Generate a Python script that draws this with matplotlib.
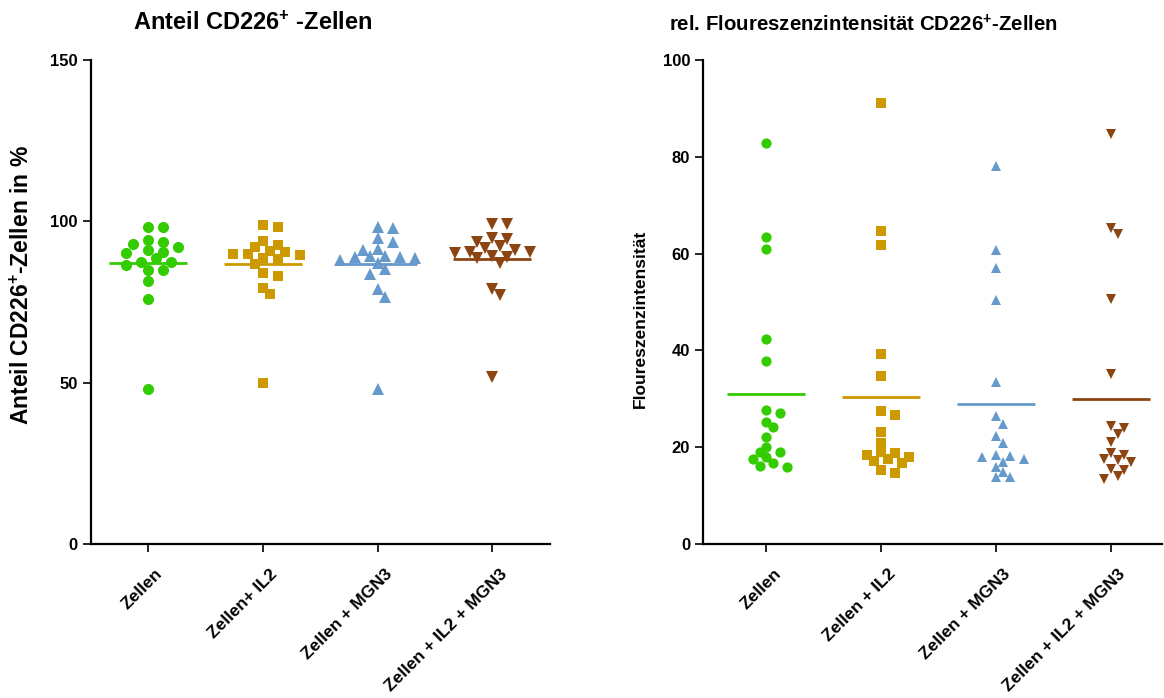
import numpy as np
import matplotlib
matplotlib.use('Agg')
import matplotlib.pyplot as plt
import matplotlib.transforms as mtransforms

plt.rcParams['font.family'] = ['Liberation Sans', 'DejaVu Sans']
plt.rcParams['font.weight'] = 'bold'
plt.rcParams['mathtext.fontset'] = 'custom'
plt.rcParams['mathtext.rm'] = 'Liberation Sans:bold'
plt.rcParams['mathtext.bf'] = 'Liberation Sans:bold'
plt.rcParams['mathtext.default'] = 'bf'

# Gruppen
labels_anteil = ['Zellen', 'Zellen+ IL2', 'Zellen + MGN3', 'Zellen + IL2 + MGN3']
labels_mfi = ['Zellen', 'Zellen + IL2', 'Zellen + MGN3', 'Zellen + IL2 + MGN3']

# Anteil CD226+ Zellen in %
anteil_zellen = [98.1, 98.1, 93.5, 94.2, 92.0, 93.0, 90.5, 91.1, 90.3,
                 88.7, 87.3, 87.3, 86.5, 84.9, 84.9, 81.5, 75.8, 47.9]
anteil_il2 = [98.9, 98.3, 93.9, 91.9, 92.7, 89.8, 89.8, 90.6, 90.9,
              89.6, 88.5, 88.2, 86.7, 83.2, 83.9, 79.2, 77.5, 49.8]
anteil_mgn3 = [97.8, 98.3, 94.9, 93.5, 91.1, 91.4, 89.2, 89.0, 88.7,
               89.0, 89.3, 87.0, 88.0, 83.7, 85.1, 78.9, 76.6, 47.9]
anteil_il2_mgn3 = [99.1, 99.1, 94.7, 94.4, 93.7, 91.8, 92.4, 90.3, 90.6,
                   90.6, 91.1, 88.8, 88.5, 89.3, 87.2, 78.9, 77.2, 51.8]

# rel. Fluoreszenzintensitaet
mfi_zellen = [82.8, 63.5, 60.9, 42.4, 37.9, 27.1, 27.7, 25.2, 24.2,
              22.1, 20.0, 19.1, 19.0, 18.0, 17.5, 16.7, 16.0, 16.2]
mfi_il2 = [91.2, 64.7, 61.8, 39.3, 34.8, 27.5, 26.6, 23.1, 20.9,
           19.0, 17.6, 18.4, 16.7, 18.0, 18.8, 17.2, 15.2, 14.6]
mfi_mgn3 = [78.1, 60.7, 57.0, 50.5, 33.4, 26.5, 24.8, 22.4, 20.9,
            18.3, 16.9, 17.9, 17.6, 18.1, 15.9, 14.8, 13.8, 13.8]
mfi_il2_mgn3 = [84.8, 65.3, 64.0, 50.7, 35.2, 24.0, 24.4, 22.7, 21.1,
                18.4, 18.9, 17.4, 17.0, 17.6, 15.3, 15.5, 14.1, 13.4]

anteil = [anteil_zellen, anteil_il2, anteil_mgn3, anteil_il2_mgn3]
mfi = [mfi_zellen, mfi_il2, mfi_mgn3, mfi_il2_mgn3]

colors = ['#33CC00', '#CC9900', '#6699CC', '#8B4513']
markers = ['o', 's', '^', 'v']
msizes = [8, 7.5, 8.5, 8.5]


def swarm_x(ax, x0, vals, dist=9.0, step=7.5):
    # einfacher Beeswarm in Pixelkoordinaten
    vals = np.asarray(vals, dtype=float)
    disp = ax.transData.transform(np.column_stack([np.full(len(vals), x0), vals]))
    placed = []
    xs = np.empty(len(vals))
    cands = [0.0]
    for n in range(1, 30):
        cands += [n * step, -n * step]
    for i in np.argsort(-vals, kind='stable'):
        px, py = disp[i]
        for off in cands:
            if all(np.hypot(px + off - qx, py - qy) >= dist for qx, qy in placed):
                break
        placed.append((px + off, py))
        xs[i] = px + off
    back = ax.transData.inverted().transform(np.column_stack([xs, disp[:, 1]]))
    return back[:, 0]


def dot_plot(ax, data, labels, ylim, yticks, xlim, scale=1.0):
    ax.set_xlim(*xlim)
    ax.set_ylim(*ylim)
    for i, vals in enumerate(data):
        xs = swarm_x(ax, i, vals, dist=9.0 * scale, step=7.5 * scale)
        ax.plot(xs, vals, linestyle='none', marker=markers[i], color=colors[i],
                markersize=msizes[i] * scale, markeredgewidth=0, clip_on=False)
        ax.hlines(np.mean(vals), i - 0.34, i + 0.34, color=colors[i], lw=2)
    for s in ['top', 'right']:
        ax.spines[s].set_visible(False)
    for s in ['left', 'bottom']:
        ax.spines[s].set_linewidth(1.6)
    ax.tick_params(direction='out', length=6, width=1.2)
    ax.tick_params(axis='y', labelsize=12)
    ax.tick_params(axis='x', pad=10)
    ax.set_yticks(yticks)
    ax.set_xticks(range(len(labels)))
    ax.set_xticklabels(labels, rotation=45, ha='right', va='top',
                       rotation_mode='anchor', fontsize=12.5, fontweight='bold')
    shift = mtransforms.ScaledTranslation(5 / 72, 0, fig.dpi_scale_trans)
    for t in ax.get_xticklabels():
        t.set_transform(t.get_transform() + shift)
    for t in ax.get_yticklabels():
        t.set_fontweight('bold')


fig = plt.figure(figsize=(11.64, 6.98), dpi=100)
ax1 = fig.add_axes([90.7 / 1164, 154 / 698, 459 / 1164, 484 / 698])
ax2 = fig.add_axes([703.3 / 1164, 154 / 698, 459 / 1164, 484 / 698])

dot_plot(ax1, anteil, labels_anteil, (0, 150), [0, 50, 100, 150], (-0.5, 3.5))
dot_plot(ax2, mfi, labels_mfi, (0, 100), [0, 20, 40, 60, 80, 100], (-0.55, 3.45), scale=0.92)

ax1.set_ylabel('Anteil CD226$^{+}$-Zellen in %', fontsize=16.5, fontweight='bold')
ax1.yaxis.set_label_coords(-0.124, 0.535)
ax2.set_ylabel('Floureszenzintensität', fontsize=12.5, fontweight='bold')
ax2.yaxis.set_label_coords(-0.12, 0.465)

fig.text(253 / 1164, 1 - 23 / 698, 'Anteil CD226$^{+}$ -Zellen', ha='center', va='center',
         fontsize=17, fontweight='bold')
fig.text(864 / 1164, 1 - 25 / 698, 'rel. Floureszenzintensität CD226$^{+}$-Zellen',
         ha='center', va='center', fontsize=14.7, fontweight='bold')

fig.savefig('out.png', dpi=100)
